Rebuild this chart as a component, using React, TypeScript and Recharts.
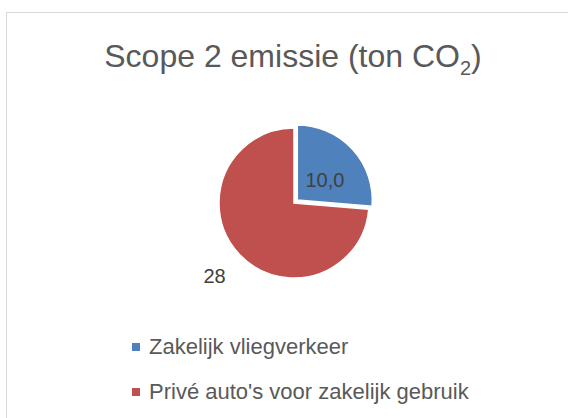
import React from "react";
import { PieChart, Pie, Cell } from "recharts";

const categories = ["Zakelijk vliegverkeer", "Privé auto's voor zakelijk gebruik"];
const values = [10, 28];
const valueLabels = ["10,0", "28"];
const colors = ["#4F81BD", "#C0504D"];
const titleMain = "Scope 2 emissie (ton CO";
const titleSub = "2";
const titleEnd = ")";

const data = categories.map((name, i) => ({ name, value: values[i] }));

const W = 568;
const H = 418;
const CX = 294;
const CY = 203;
const R = 75;
const EXPLODE = 4.5;

const total = values.reduce((a, b) => a + b, 0);
const blueMid = 90 - (360 * values[0]) / total / 2;
const rad = (blueMid * Math.PI) / 180;
const BCX = CX + EXPLODE * Math.cos(rad);
const BCY = CY - EXPLODE * Math.sin(rad);

const FONT = "'Liberation Sans', Arial, sans-serif";

const RADIAN = Math.PI / 180;

const renderLabel = (which: number) => (props: any) => {
  const { cx, cy, midAngle, outerRadius, index } = props;
  if (index !== which) return null;
  const r = which === 0 ? outerRadius * 0.5 : outerRadius * 1.44;
  const x = cx + r * Math.cos(-midAngle * RADIAN);
  const y = cy + r * Math.sin(-midAngle * RADIAN) + (which === 0 ? 5 : 0);
  return (
    <text
      x={x}
      y={y}
      textAnchor="middle"
      dominantBaseline="central"
      fill="#404040"
      fontSize={20}
      fontFamily={FONT}
    >
      {valueLabels[index]}
    </text>
  );
};

export default function App() {
  return (
    <div
      style={{
        position: "absolute",
        left: 0,
        top: 0,
        width: W,
        height: H,
        overflow: "hidden",
        background: "#fff",
      }}
    >
      <PieChart width={W} height={H} margin={{ top: 0, right: 0, bottom: 0, left: 0 }}>
        <rect x={6.5} y={12.5} width={640} height={480} fill="none" stroke="#d9d9d9" strokeWidth={1} />
        <text x={293} y={67} textAnchor="middle" fill="#595959" fontSize={32} fontFamily={FONT}>
          {titleMain}
          <tspan fontSize={20} dy={8}>{titleSub}</tspan>
          <tspan dy={-8}>{titleEnd}</tspan>
        </text>
        <Pie
          data={data}
          dataKey="value"
          nameKey="name"
          cx={CX}
          cy={CY}
          outerRadius={R}
          startAngle={90}
          endAngle={-270}
          isAnimationActive={false}
          stroke="#fff"
          strokeWidth={1.5}
          labelLine={false}
          label={renderLabel(1)}
        >
          {data.map((d, i) => (
            <Cell key={d.name} fill={i === 1 ? colors[1] : "none"} stroke={i === 1 ? "#fff" : "none"} />
          ))}
        </Pie>
        <Pie
          data={data}
          dataKey="value"
          nameKey="name"
          cx={BCX}
          cy={BCY}
          outerRadius={R}
          startAngle={90}
          endAngle={-270}
          isAnimationActive={false}
          stroke="#fff"
          strokeWidth={1.5}
          labelLine={false}
          label={renderLabel(0)}
        >
          {data.map((d, i) => (
            <Cell key={d.name} fill={i === 0 ? colors[0] : "none"} stroke={i === 0 ? "#fff" : "none"} />
          ))}
        </Pie>
        {categories.map((c, i) => (
          <g key={c}>
            <rect x={132} y={343 + i * 45} width={8} height={8} fill={colors[i]} />
            <text x={149} y={354 + i * 45} fill="#595959" fontSize={22} fontFamily={FONT}>
              {c}
            </text>
          </g>
        ))}
      </PieChart>
    </div>
  );
}
